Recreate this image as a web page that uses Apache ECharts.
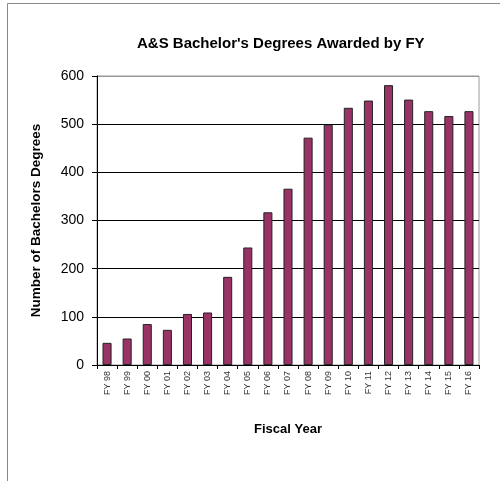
<!DOCTYPE html>
<html>
<head>
<meta charset="utf-8">
<script src="https://cdn.jsdelivr.net/npm/echarts@6/dist/echarts.min.js"></script>
<style>
html,body{margin:0;padding:0;background:#fff;}
#chart{width:500px;height:481px;}
</style>
</head>
<body>
<div id="chart"></div>
<script>
const categories = ["FY 98","FY 99","FY 00","FY 01","FY 02","FY 03","FY 04","FY 05","FY 06","FY 07","FY 08","FY 09","FY 10","FY 11","FY 12","FY 13","FY 14","FY 15","FY 16"];
const degrees = [46, 55, 85, 73, 106, 109, 183, 244, 317, 366, 472, 499, 534, 549, 581, 551, 527, 517, 527];
const yTicks = [0, 100, 200, 300, 400, 500, 600];

const chart = echarts.init(document.getElementById('chart'));
chart.setOption({
  animation: false,
  backgroundColor: '#fff',
  textStyle: { fontFamily: 'Liberation Sans, Arial, sans-serif' },
  title: {
    text: "A&S Bachelor's Degrees Awarded by FY",
    left: 132, top: 31,
    textStyle: { fontSize: 15, fontWeight: 'bold', color: '#000', fontFamily: 'Liberation Sans, Arial, sans-serif' }
  },
  graphic: [{
    type: 'rect', silent: true,
    shape: { x: 7.5, y: 3.5, width: 600, height: 600 },
    style: { fill: 'none', stroke: '#888', lineWidth: 1 }
  }],
  grid: { left: 97, right: 21, top: 76, bottom: 116, show: true, borderColor: '#999', borderWidth: 1 },
  xAxis: {
    type: 'category',
    data: categories,
    name: 'Fiscal Year',
    nameLocation: 'middle',
    nameGap: 58,
    nameTextStyle: { fontSize: 13, fontWeight: 'bold', color: '#000' },
    axisLine: { lineStyle: { color: '#000', width: 1 } },
    axisTick: { show: true, length: 4, alignWithLabel: false, lineStyle: { color: '#000' } },
    axisLabel: { rotate: 90, fontSize: 9, color: '#333', margin: 6, interval: 0 }
  },
  yAxis: {
    type: 'value',
    min: yTicks[0], max: yTicks[yTicks.length - 1], interval: 100,
    name: 'Number of Bachelors Degrees',
    nameLocation: 'middle',
    nameGap: 54,
    nameTextStyle: { fontSize: 13.5, fontWeight: 'bold', color: '#000' },
    axisLine: { show: true, lineStyle: { color: '#000', width: 1 } },
    axisTick: { show: true, length: 5, lineStyle: { color: '#000' } },
    axisLabel: { fontSize: 14, color: '#000', margin: 13 },
    splitLine: { show: true, lineStyle: { color: ['#000', '#000', '#000', '#000', '#000', '#000', '#999'], width: 1 } }
  },
  series: [{
    type: 'bar',
    data: degrees,
    barWidth: '45%',
    itemStyle: { color: '#993366', borderColor: '#222', borderWidth: 1 }
  }]
});
</script>
</body>
</html>
